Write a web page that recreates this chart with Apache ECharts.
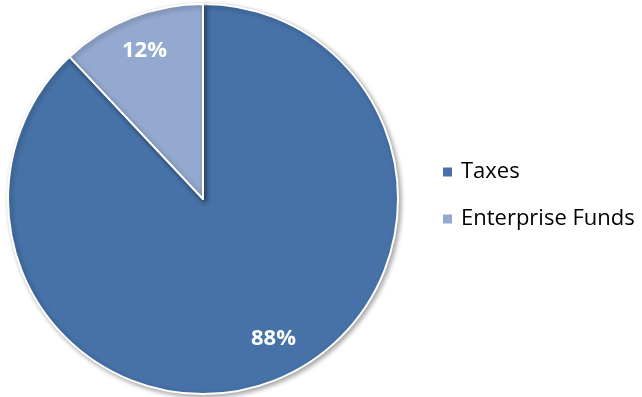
<!DOCTYPE html>
<html>
<head>
<meta charset="utf-8">
<script src="https://cdn.jsdelivr.net/npm/echarts@6/dist/echarts.min.js"></script>
<style>
  html, body { margin: 0; padding: 0; background: #fff; }
  #chart { width: 642px; height: 397px; }
</style>
</head>
<body>
<div id="chart"></div>
<script>
const categories = ["Taxes", "Enterprise Funds"]
const shares = [88, 12]
const colors = ["#4672A8", "#93A9CF"]

const chart = echarts.init(document.getElementById("chart"))
const pieData = categories.map((name, i) => ({ name, value: shares[i], itemStyle: { color: colors[i] } }))

// excel nudges the big label a bit off the mid-angle
const labelOffsets = [[12, -8], [0, 0]]

chart.setOption({
  animation: false,
  legend: {
    orient: "vertical",
    left: 436,
    top: 156,
    itemWidth: 11,
    itemHeight: 11,
    itemGap: 25,
    icon: "rect",
    textStyle: { fontFamily: "Open Sans", fontSize: 22, color: "#000", padding: [0, 0, 0, 3] },
    data: categories
  },
  series: [
    // slices
    {
      type: "pie",
      center: [203, 199],
      radius: 195,
      startAngle: 90,
      clockwise: true,
      label: { show: false },
      labelLine: { show: false },
      itemStyle: {
        borderColor: "#fff", borderWidth: 2,
        shadowColor: "rgba(0,0,0,0.35)", shadowBlur: 5, shadowOffsetX: 2, shadowOffsetY: 2
      },
      emphasis: { disabled: true },
      data: pieData
    },
    // transparent ring only for label placement (~0.8 r)
    {
      type: "pie",
      center: [203, 199],
      radius: [117, 195],
      startAngle: 90,
      clockwise: true,
      silent: true,
      legendHoverLink: false,
      itemStyle: { color: "transparent" },
      label: {
        show: true, position: "inside", formatter: "{d}%",
        color: "#fff", fontFamily: "Open Sans", fontWeight: "bold", fontSize: 22
      },
      labelLine: { show: false },
      emphasis: { disabled: true },
      data: categories.map((name, i) => ({ name: name + " ", value: shares[i], label: { offset: labelOffsets[i] } }))
    }
  ]
})
</script>
</body>
</html>
